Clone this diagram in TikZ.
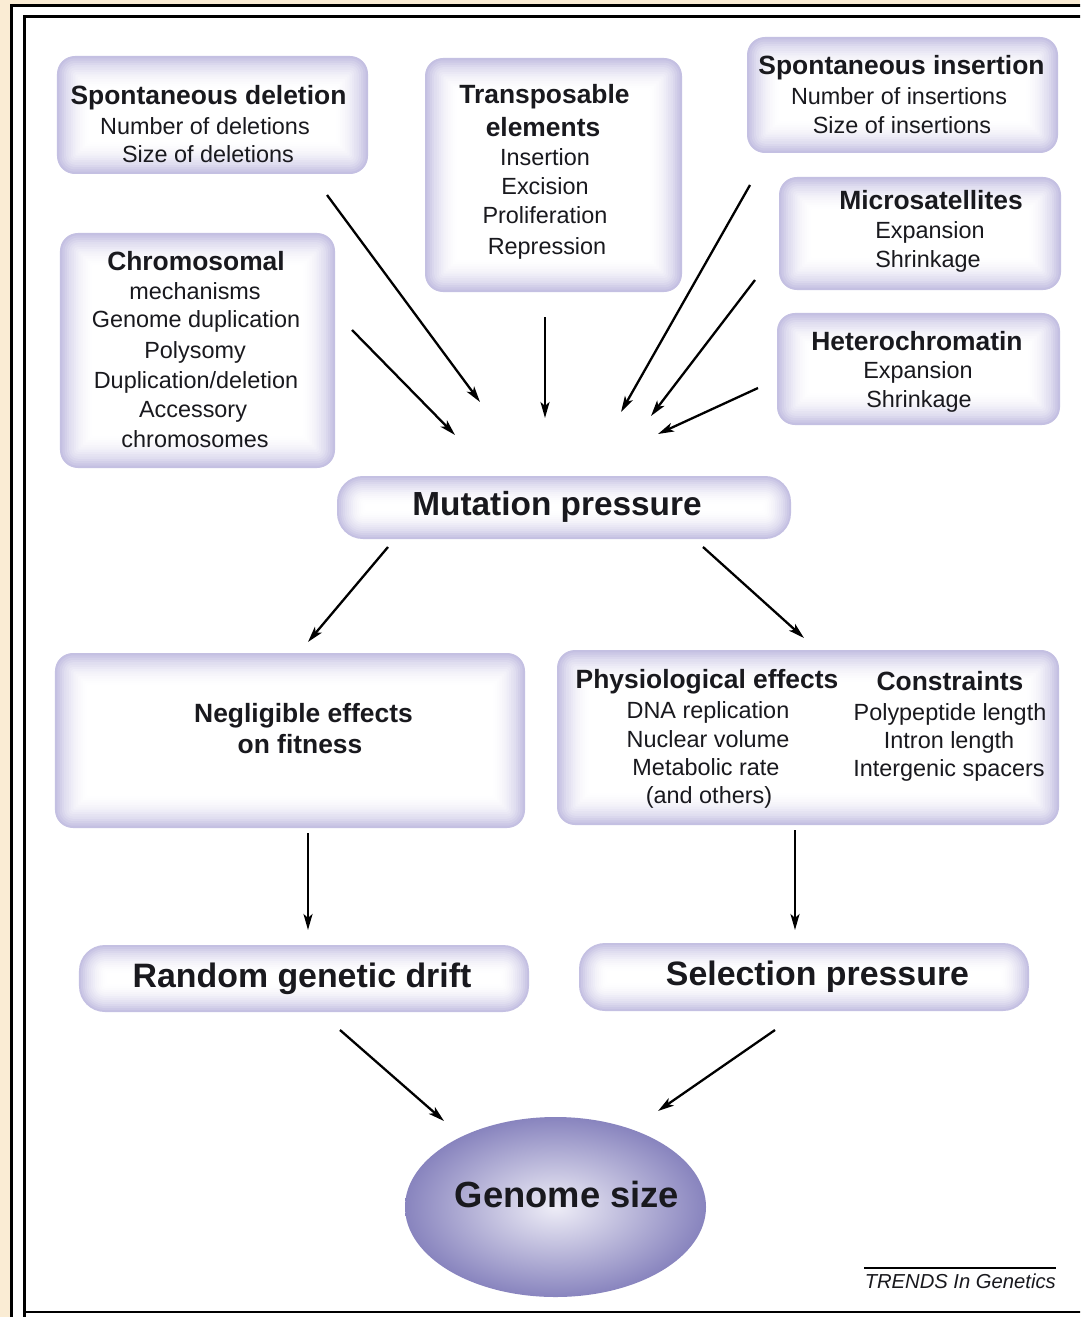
\documentclass[tikz,border=0pt]{standalone}
\usepackage{fontspec}
\setmainfont{Liberation Sans}
\usetikzlibrary{arrows.meta,shapes.geometric}
\definecolor{bgbeige}{RGB}{250,236,212}
\definecolor{lavA}{RGB}{196,192,226}
\definecolor{ellIn}{RGB}{238,237,247}
\definecolor{ellOut}{RGB}{136,132,190}
\definecolor{ink}{RGB}{25,25,30}
\tikzset{
  softbox/.style 2 args={draw=none, fill=lavA, rounded corners=#1, inner sep=0pt,
    path picture={
      \foreach \k in {1,...,14}{
        \pgfmathtruncatemacro{\pc}{100*(1-\k/15)^2}
        \pgfmathsetmacro{\rr}{max(#1-\k*#2,1)}
        \fill[lavA!\pc!white, rounded corners=\rr]
          ([shift={(\k*#2,\k*#2)}]path picture bounding box.north west) rectangle
          ([shift={(-\k*#2,-\k*#2)}]path picture bounding box.south east);
      }}},
  box/.style={softbox={18}{2.3}},
  pill/.style={softbox={26}{2}},
  ttl/.style={anchor=base, inner sep=0pt, text=ink, font=\fontsize{26.5}{30}\selectfont\bfseries},
  sub/.style={anchor=base, inner sep=0pt, text=ink, font=\fontsize{23.5}{28}\selectfont},
  big/.style={anchor=base, inner sep=0pt, text=ink, font=\fontsize{34}{38}\selectfont\bfseries},
  arr/.style={-{Stealth[length=16bp,width=9bp,inset=4bp]}, line width=2.3bp, black},
}
\begin{document}
\begin{tikzpicture}[x=1bp,y=-1bp]
\useasboundingbox (0,0) rectangle (1080,1317);
\clip (0,0) rectangle (1080,1317);
% page background and frames
\fill[bgbeige] (0,0) rectangle (1080,1317);
\fill[white] (11,5) rectangle (1100,1340);
\draw[line width=2.6bp] (11.5,1340) -- (11.5,5.5) -- (1100,5.5);
\draw[line width=2.6bp] (24.5,1340) -- (24.5,16.5) -- (1100,16.5);
\draw[line width=2.6bp] (24.5,1312) -- (1100,1312);

% boxes
\node[box, minimum width=311bp, minimum height=118bp] (del) at (212.5,115) {};
\node[box, minimum width=257bp, minimum height=234bp] (tra) at (553.5,175) {};
\node[box, minimum width=311bp, minimum height=116bp] (ins) at (902.5,95) {};
\node[box, minimum width=282bp, minimum height=113bp] (mic) at (920,233.5) {};
\node[box, minimum width=283bp, minimum height=112bp] (het) at (918.5,369) {};
\node[box, minimum width=275bp, minimum height=235bp] (chr) at (197.5,350.5) {};
\node[pill, minimum width=454bp, minimum height=63bp] (mut) at (564,507.5) {};
\node[box, minimum width=470bp, minimum height=175bp] (neg) at (290,740.5) {};
\node[box, minimum width=502bp, minimum height=175bp] (phy) at (808,737.5) {};
\node[pill, minimum width=450bp, minimum height=67bp] (rgd) at (304,978.5) {};
\node[pill, minimum width=450bp, minimum height=68bp] (sel) at (804,977) {};
\node[ellipse, minimum width=301bp, minimum height=180bp, inner sep=0pt,
      shading=radial, inner color=ellIn, outer color=ellOut] (gs) at (555.5,1207) {};

% texts
\node[ttl] (delT) at (208.5,105) {Spontaneous deletion};
\node[sub] (delA) at (205,135) {Number of deletions};
\node[sub] (delB) at (208,163) {Size of deletions};

\node[ttl] (traT) at (544.5,104) {Transposable};
\node[ttl] (traT2) at (543,137) {elements};
\node[sub] (traA) at (545,166) {Insertion};
\node[sub] (traB) at (545,195) {Excision};
\node[sub] (traC) at (545,224) {Proliferation};
\node[sub] (traD) at (547,255) {Repression};

\node[ttl] (insT) at (901.5,75) {Spontaneous insertion};
\node[sub] (insA) at (899,105) {Number of insertions};
\node[sub] (insB) at (902,134) {Size of insertions};

\node[ttl] (micT) at (931,210) {Microsatellites};
\node[sub] (micA) at (930,239) {Expansion};
\node[sub] (micB) at (928,268) {Shrinkage};

\node[ttl] (hetT) at (917,350) {Heterochromatin};
\node[sub] (hetA) at (918,378) {Expansion};
\node[sub] (hetB) at (919,407) {Shrinkage};

\node[ttl] (chrT) at (196,271) {Chromosomal};
\node[sub] (chrA) at (195,300) {mechanisms};
\node[sub] (chrB) at (196,328) {Genome duplication};
\node[sub] (chrC) at (195,358) {Polysomy};
\node[sub] (chrD) at (196,388) {Duplication/deletion};
\node[sub] (chrE) at (193,417) {Accessory};
\node[sub] (chrF) at (195,447) {chromosomes};

\node[anchor=base, inner sep=0pt, text=ink, font=\fontsize{33.5}{38}\selectfont\bfseries] (mutT) at (557,515) {Mutation pressure};

\node[ttl] (negT) at (303.5,722) {Negligible effects};
\node[ttl] (negT2) at (300,753) {on fitness};

\node[ttl] (phyT) at (707,688) {Physiological effects};
\node[sub] (phyA) at (708,718) {DNA replication};
\node[sub] (phyB) at (708,747) {Nuclear volume};
\node[sub] (phyC) at (706,775) {Metabolic rate};
\node[sub] (phyD) at (709,803) {(and others)};
\node[ttl] (conT) at (950,690) {Constraints};
\node[sub] (conA) at (950,720) {Polypeptide length};
\node[sub] (conB) at (949,748) {Intron length};
\node[sub] (conC) at (949,776) {Intergenic spacers};

\node[big] (rgdT) at (302,987) {Random genetic drift};
\node[big] (selT) at (817.5,985) {Selection pressure};
\node[anchor=base, inner sep=0pt, text=ink, font=\fontsize{36.5}{40}\selectfont\bfseries] (gsT) at (567,1207) {Genome size};

\node[anchor=base east, inner sep=0pt, text=ink, font=\fontsize{20.3}{24}\selectfont\itshape] (trends) at (1056,1288) {TRENDS In Genetics};
\draw[line width=1.8bp] (864,1268) -- (1056,1268);

% connector end points
\coordinate (a1s) at (327,195);  \coordinate (a1e) at (480,402);
\coordinate (a2s) at (352,330);  \coordinate (a2e) at (455,435);
\coordinate (a3s) at (545,317);  \coordinate (a3e) at (545,418);
\coordinate (a4s) at (750,185);  \coordinate (a4e) at (621,412);
\coordinate (a5s) at (755,280);  \coordinate (a5e) at (651,416);
\coordinate (a6s) at (758,388);  \coordinate (a6e) at (658,434);
\coordinate (a7s) at (388,547);  \coordinate (a7e) at (308,642);
\coordinate (a8s) at (703,547);  \coordinate (a8e) at (804,638);
\coordinate (a9s) at (308,833);  \coordinate (a9e) at (308,930);
\coordinate (a10s) at (795,830); \coordinate (a10e) at (795,930);
\coordinate (a11s) at (340,1030); \coordinate (a11e) at (444,1121);
\coordinate (a12s) at (775,1030); \coordinate (a12e) at (658,1111);

\draw[arr] (a1s) -- (a1e);
\draw[arr] (a2s) -- (a2e);
\draw[arr] (a3s) -- (a3e);
\draw[arr] (a4s) -- (a4e);
\draw[arr] (a5s) -- (a5e);
\draw[arr] (a6s) -- (a6e);
\draw[arr] (a7s) -- (a7e);
\draw[arr] (a8s) -- (a8e);
\draw[arr] (a9s) -- (a9e);
\draw[arr] (a10s) -- (a10e);
\draw[arr] (a11s) -- (a11e);
\draw[arr] (a12s) -- (a12e);
\end{tikzpicture}
\end{document}
